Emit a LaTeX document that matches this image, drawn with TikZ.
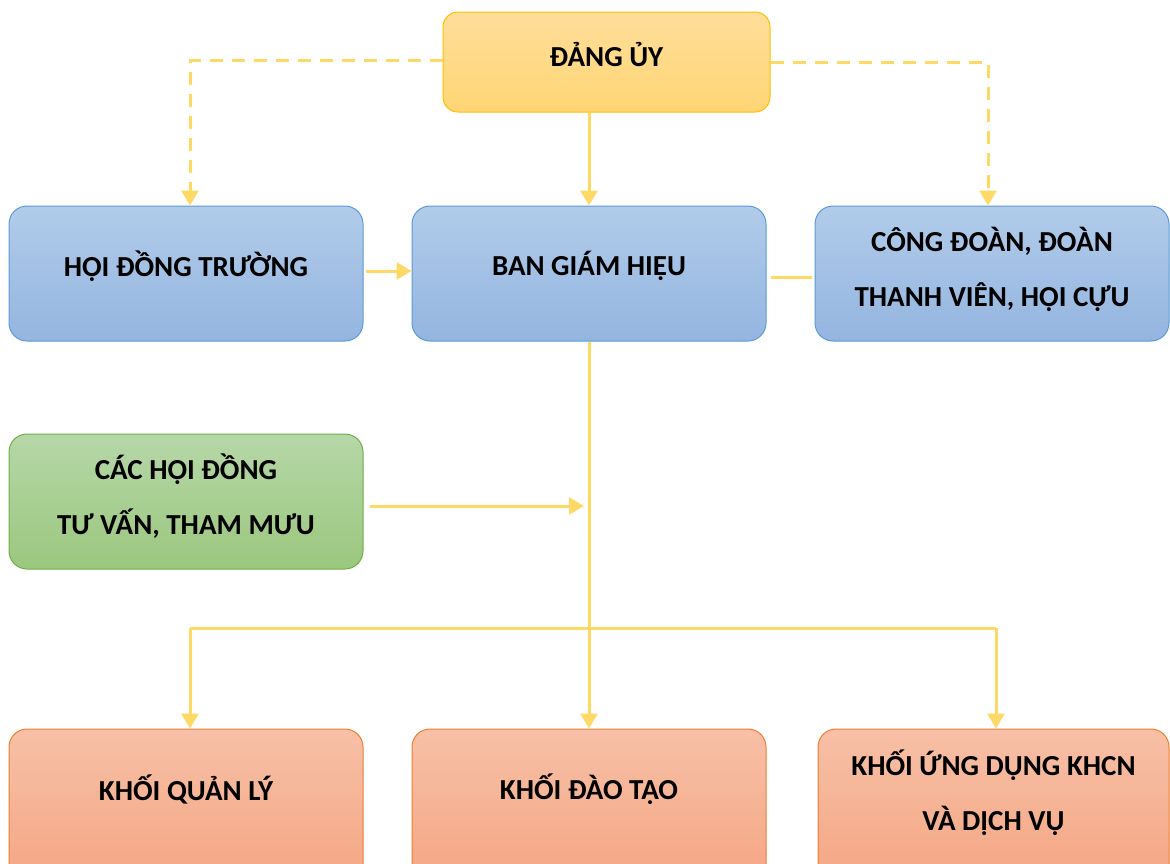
\documentclass[tikz,border=0pt]{standalone}
\usepackage{fontspec}
\setmainfont{Carlito}
\usetikzlibrary{arrows.meta}
\definecolor{lineY}{HTML}{FFD966}
\definecolor{yTop}{HTML}{FFDE9A}
\definecolor{yBot}{HTML}{FFD574}
\definecolor{yDraw}{HTML}{FFC000}
\definecolor{bTop}{HTML}{B1CCEA}
\definecolor{bBot}{HTML}{94B5E0}
\definecolor{bDraw}{HTML}{5B9BD5}
\definecolor{gTop}{HTML}{B6D7A8}
\definecolor{gBot}{HTML}{9BC77E}
\definecolor{gDraw}{HTML}{70AD47}
\definecolor{oTop}{HTML}{F7C0A6}
\definecolor{oBot}{HTML}{F4A582}
\definecolor{oDraw}{HTML}{ED7D31}
\begin{document}
\begin{tikzpicture}[x=1pt,y=-1pt,
  box/.style={rounded corners=18pt, line width=1pt, minimum width=354pt, minimum height=135pt, inner sep=0pt},
  ybox/.style={box, draw=yDraw, top color=yTop, bottom color=yBot},
  bbox/.style={box, draw=bDraw, top color=bTop, bottom color=bBot},
  gbox/.style={box, draw=gDraw, top color=gTop, bottom color=gBot},
  obox/.style={box, draw=oDraw, top color=oTop, bottom color=oBot},
  txt/.style={font=\bfseries\fontsize{29}{55}\selectfont, align=center, inner sep=0pt},
  conn/.style={draw=lineY, line width=3pt},
  arr/.style={conn, -{Triangle[width=17pt,length=15pt]}},
  darr/.style={arr, dash pattern=on 13pt off 9pt}
]
\useasboundingbox (0,0) rectangle (1170,863);
\clip (0,0) rectangle (1170,863);
% boxes
\node[ybox, minimum width=327pt, minimum height=100pt, rounded corners=15pt] (du) at (606.5,62) {};
\node[bbox] (hdt) at (186,273.5) {};
\node[bbox] (bgh) at (589,273.5) {};
\node[bbox] (cd) at (992,273.5) {};
\node[gbox] (chd) at (186,501.5) {};
\node[obox, minimum height=160pt] (kql) at (186,809) {};
\node[obox, minimum height=160pt] (kdt) at (589,809) {};
\node[obox, minimum width=351pt, minimum height=160pt] (kud) at (993.5,809) {};
% texts
\node[txt] (t-du) at (606.5,55) {ĐẢNG ỦY};
\node[txt] (t-hdt) at (186,266) {HỘI ĐỒNG TRƯỜNG};
\node[txt] (t-bgh) at (589,266) {BAN GIÁM HIỆU};
\node[txt] (t-cd) at (992,269.5) {CÔNG ĐOÀN, ĐOÀN\\THANH VIÊN, HỘI CỰU};
\node[txt] (t-chd) at (186,496.5) {CÁC HỘI ĐỒNG\\TƯ VẤN, THAM MƯU};
\node[txt] (t-kql) at (186,789) {KHỐI QUẢN LÝ};
\node[txt] (t-kdt) at (589,789) {KHỐI ĐÀO TẠO};
\node[txt] (t-kud) at (993.5,793) {KHỐI ỨNG DỤNG KHCN\\VÀ DỊCH VỤ};
% coordinates
\coordinate (dl) at (190,60);
\coordinate (dr) at (988,62);
\coordinate (bl) at (190,628);
\coordinate (br) at (996,628);
\coordinate (m) at (584,506);
% connectors
\draw[darr] (du.west |- dl) -- (dl) -- (dl |- hdt.north);
\draw[darr] (du.east |- dr) -- (dr) -- (dr |- cd.north);
\draw[arr] (du.south -| bgh.north) -- (bgh.north);
\draw[arr] ([xshift=2pt]hdt.east |- 0,271) -- (bgh.west |- 0,271);
\draw[conn] ([xshift=4pt]bgh.east |- 0,277) -- ([xshift=-3pt]cd.west |- 0,277);
\draw[arr] (bgh.south) -- (kdt.north);
\draw[arr] ([xshift=6pt]chd.east |- m) -- (m);
\draw[conn] (bl) -- (br);
\draw[arr] (bl) -- (bl |- kql.north);
\draw[arr] (br) -- (br |- kud.north);
\end{tikzpicture}
\end{document}
